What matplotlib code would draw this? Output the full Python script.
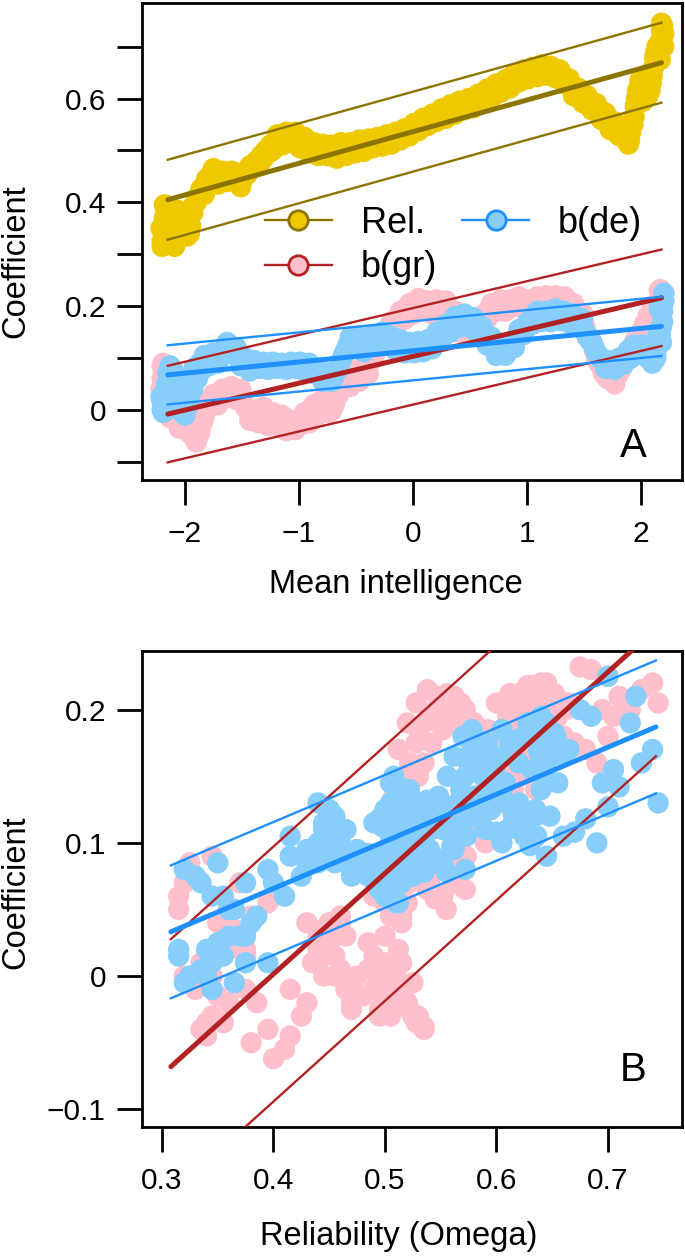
import numpy as np
import matplotlib.pyplot as plt
from matplotlib.lines import Line2D

# moving-window estimates: first pass along the bands
mean_iq = [-2.20, -2.20, -2.19, -2.18, -2.17, -2.16, -2.14, -2.12, -2.10, -2.08,
           -2.06, -2.04, -2.02, -2.00, -1.98, -1.96, -1.93, -1.90, -1.87, -1.84,
           -1.81, -1.77, -1.73, -1.69, -1.65, -1.61, -1.57, -1.53, -1.49, -1.45,
           -1.41, -1.37, -1.33, -1.29, -1.25, -1.21, -1.17, -1.13, -1.09, -1.05,
           -1.01, -0.97, -0.93, -0.89, -0.85, -0.81, -0.77, -0.73, -0.69, -0.65,
           -0.61, -0.57, -0.53, -0.49, -0.45, -0.41, -0.37, -0.33, -0.29, -0.25,
           -0.21, -0.17, -0.13, -0.09, -0.05, -0.01, 0.03, 0.07, 0.11, 0.15,
           0.19, 0.23, 0.27, 0.31, 0.35, 0.39, 0.43, 0.47, 0.51, 0.55,
           0.59, 0.63, 0.67, 0.71, 0.75, 0.79, 0.83, 0.87, 0.91, 0.95,
           0.99, 1.03, 1.07, 1.11, 1.15, 1.19, 1.23, 1.27, 1.31, 1.35,
           1.39, 1.43, 1.47, 1.51, 1.55, 1.59, 1.63, 1.67, 1.71, 1.75,
           1.79, 1.83, 1.87, 1.90, 1.93, 1.95, 1.97, 2.00, 2.03, 2.06,
           2.09, 2.11, 2.12, 2.13, 2.14, 2.15, 2.16, 2.17, 2.17, 2.18,
           2.18, 2.19, 2.19, 2.20, 2.20]
rel = [0.315, 0.325, 0.345, 0.370, 0.380, 0.360, 0.335, 0.320, 0.330, 0.345,
       0.360, 0.375, 0.365, 0.345, 0.335, 0.340, 0.380, 0.400, 0.415, 0.430,
       0.445, 0.455, 0.450, 0.445, 0.455, 0.450, 0.445, 0.440, 0.445, 0.455,
       0.465, 0.480, 0.490, 0.500, 0.510, 0.515, 0.520, 0.525, 0.528, 0.525,
       0.522, 0.515, 0.510, 0.505, 0.500, 0.500, 0.505, 0.500, 0.495, 0.500,
       0.505, 0.500, 0.505, 0.510, 0.505, 0.510, 0.515, 0.512, 0.515, 0.520,
       0.518, 0.522, 0.528, 0.530, 0.535, 0.540, 0.545, 0.550, 0.555, 0.560,
       0.565, 0.568, 0.572, 0.575, 0.578, 0.582, 0.585, 0.588, 0.592, 0.596,
       0.600, 0.605, 0.610, 0.615, 0.620, 0.625, 0.630, 0.635, 0.640, 0.643,
       0.645, 0.648, 0.650, 0.652, 0.653, 0.654, 0.652, 0.648, 0.640, 0.630,
       0.620, 0.612, 0.605, 0.598, 0.590, 0.582, 0.573, 0.562, 0.552, 0.545,
       0.538, 0.530, 0.522, 0.520, 0.550, 0.585, 0.615, 0.620, 0.610, 0.605,
       0.630, 0.660, 0.680, 0.690, 0.700, 0.695, 0.685, 0.675, 0.710, 0.730,
       0.745, 0.740, 0.720, 0.700, 0.725]
b_gr = [0.060, 0.085, 0.090, 0.070, 0.045, 0.030, 0.010, 0.000, -0.010, 0.000,
        0.020, 0.015, -0.005, -0.030, -0.040, -0.045, -0.050, -0.062, -0.045, -0.020,
        0.000, 0.015, 0.025, 0.020, 0.030, 0.040, 0.035, 0.030, 0.015, 0.000,
        -0.010, -0.015, -0.010, -0.015, -0.020, -0.015, -0.020, -0.030, -0.035, -0.030,
        -0.025, -0.020, -0.015, -0.010, 0.000, 0.010, 0.005, -0.005, 0.010, 0.030,
        0.045, 0.055, 0.060, 0.065, 0.070, 0.080, 0.095, 0.110, 0.125, 0.140,
        0.150, 0.160, 0.175, 0.185, 0.190, 0.195, 0.200, 0.205, 0.200, 0.195,
        0.200, 0.205, 0.200, 0.190, 0.175, 0.165, 0.160, 0.155, 0.155, 0.160,
        0.170, 0.185, 0.195, 0.200, 0.205, 0.200, 0.195, 0.205, 0.210, 0.205,
        0.200, 0.205, 0.210, 0.212, 0.210, 0.208, 0.210, 0.212, 0.210, 0.205,
        0.200, 0.190, 0.175, 0.160, 0.140, 0.115, 0.090, 0.070, 0.060, 0.058,
        0.065, 0.080, 0.100, 0.115, 0.125, 0.135, 0.140, 0.150, 0.165, 0.180,
        0.190, 0.180, 0.170, 0.160, 0.180, 0.200, 0.230, 0.232, 0.210, 0.215,
        0.205, 0.220, 0.200, 0.225, 0.210]
b_de = [0.015, 0.000, 0.010, 0.030, 0.040, 0.050, 0.070, 0.080, 0.075, 0.060,
        0.030, 0.010, -0.005, -0.010, 0.005, 0.020, 0.040, 0.070, 0.090, 0.095,
        0.100, 0.098, 0.100, 0.110, 0.120, 0.125, 0.115, 0.100, 0.090, 0.085,
        0.085, 0.088, 0.085, 0.082, 0.085, 0.088, 0.085, 0.082, 0.080, 0.085,
        0.088, 0.085, 0.082, 0.080, 0.075, 0.068, 0.062, 0.060, 0.065, 0.080,
        0.105, 0.125, 0.130, 0.125, 0.120, 0.125, 0.130, 0.135, 0.138, 0.135,
        0.130, 0.128, 0.125, 0.120, 0.118, 0.120, 0.122, 0.122, 0.120, 0.125,
        0.130, 0.140, 0.150, 0.160, 0.168, 0.172, 0.170, 0.172, 0.168, 0.160,
        0.150, 0.140, 0.130, 0.122, 0.118, 0.115, 0.118, 0.125, 0.140, 0.150,
        0.160, 0.170, 0.178, 0.182, 0.180, 0.178, 0.182, 0.185, 0.182, 0.180,
        0.178, 0.175, 0.165, 0.150, 0.135, 0.120, 0.105, 0.095, 0.088, 0.085,
        0.090, 0.098, 0.105, 0.112, 0.115, 0.118, 0.115, 0.112, 0.110, 0.100,
        0.098, 0.105, 0.118, 0.100, 0.127, 0.145, 0.195, 0.200, 0.142, 0.160,
        0.130, 0.170, 0.190, 0.225, 0.210]

# second pass: the other edge of each band (spread of the windows)
mean_iq_2 = [-2.21, -2.19, -2.18, -2.15, -2.13, -2.11, -2.09, -2.07, -2.05, -2.03,
             -2.01, -1.99, -1.95, -1.92, -1.89, -1.86, -1.83, -1.79, -1.75, -1.71,
             -1.67, -1.63, -1.59, -1.55, -1.51, -1.47, -1.43, -1.39, -1.35, -1.31,
             -1.27, -1.23, -1.19, -1.15, -1.11, -1.07, -1.03, -0.99, -0.95, -0.91,
             -0.87, -0.83, -0.79, -0.75, -0.71, -0.67, -0.63, -0.59, -0.55, -0.51,
             -0.47, -0.43, -0.39, -0.35, -0.31, -0.27, -0.23, -0.19, -0.15, -0.11,
             -0.07, -0.03, 0.01, 0.05, 0.09, 0.13, 0.17, 0.21, 0.25, 0.29,
             0.33, 0.37, 0.41, 0.45, 0.49, 0.53, 0.57, 0.61, 0.65, 0.69,
             0.73, 0.77, 0.81, 0.85, 0.89, 0.93, 0.97, 1.01, 1.05, 1.09,
             1.13, 1.17, 1.21, 1.25, 1.29, 1.33, 1.37, 1.41, 1.45, 1.49,
             1.53, 1.57, 1.61, 1.65, 1.69, 1.73, 1.77, 1.81, 1.85, 1.89,
             1.91, 1.94, 1.96, 1.99, 2.02, 2.05, 2.08, 2.10, 2.13, 2.16]
rel_2 = [0.350, 0.320, 0.395, 0.375, 0.350, 0.365, 0.315, 0.385, 0.340, 0.355,
         0.375, 0.360, 0.355, 0.395, 0.410, 0.425, 0.415, 0.440, 0.465, 0.435,
         0.460, 0.440, 0.460, 0.450, 0.430, 0.460, 0.470, 0.475, 0.470, 0.485,
         0.495, 0.500, 0.530, 0.510, 0.535, 0.515, 0.535, 0.505, 0.525, 0.495,
         0.515, 0.490, 0.512, 0.490, 0.510, 0.485, 0.515, 0.490, 0.515, 0.495,
         0.520, 0.498, 0.522, 0.505, 0.525, 0.508, 0.530, 0.512, 0.535, 0.520,
         0.542, 0.528, 0.552, 0.538, 0.562, 0.548, 0.570, 0.556, 0.580, 0.562,
         0.588, 0.570, 0.595, 0.578, 0.600, 0.582, 0.608, 0.590, 0.618, 0.600,
         0.628, 0.612, 0.636, 0.620, 0.648, 0.632, 0.655, 0.638, 0.660, 0.642,
         0.665, 0.645, 0.662, 0.640, 0.655, 0.628, 0.638, 0.605, 0.620, 0.592,
         0.605, 0.578, 0.590, 0.560, 0.572, 0.540, 0.555, 0.528, 0.540, 0.512,
         0.535, 0.565, 0.600, 0.635, 0.595, 0.625, 0.615, 0.645, 0.670, 0.705]
b_gr_2 = [0.040, 0.070, 0.055, 0.020, -0.015, 0.035, 0.050, -0.020, -0.035, 0.040,
          -0.010, -0.020, -0.035, -0.040, -0.055, -0.030, -0.010, 0.020, 0.030, 0.010,
          0.040, 0.025, 0.045, 0.020, 0.040, 0.005, -0.020, 0.000, -0.025, 0.005,
          -0.030, -0.005, -0.030, -0.010, -0.040, -0.020, -0.038, -0.030, -0.005, -0.025,
          0.010, -0.010, 0.020, 0.015, 0.000, 0.025, 0.040, 0.060, 0.045, 0.075,
          0.055, 0.085, 0.070, 0.100, 0.120, 0.135, 0.150, 0.170, 0.160, 0.190,
          0.175, 0.205, 0.185, 0.215, 0.190, 0.210, 0.185, 0.212, 0.190, 0.210,
          0.180, 0.190, 0.150, 0.170, 0.145, 0.170, 0.150, 0.180, 0.175, 0.205,
          0.190, 0.212, 0.190, 0.212, 0.200, 0.218, 0.195, 0.212, 0.200, 0.218,
          0.205, 0.220, 0.200, 0.220, 0.200, 0.218, 0.195, 0.205, 0.180, 0.185,
          0.145, 0.130, 0.100, 0.085, 0.065, 0.070, 0.050, 0.072, 0.090, 0.110,
          0.100, 0.125, 0.130, 0.140, 0.155, 0.170, 0.185, 0.200, 0.175, 0.195]
b_de_2 = [0.025, -0.005, 0.010, 0.070, 0.085, 0.050, 0.020, 0.045, 0.000, 0.015,
          0.030, 0.050, 0.060, 0.080, 0.060, 0.075, 0.105, 0.085, 0.110, 0.090,
          0.105, 0.130, 0.110, 0.120, 0.085, 0.100, 0.075, 0.095, 0.080, 0.092,
          0.078, 0.092, 0.080, 0.090, 0.078, 0.092, 0.080, 0.092, 0.075, 0.090,
          0.070, 0.080, 0.055, 0.072, 0.055, 0.075, 0.095, 0.115, 0.140, 0.118,
          0.140, 0.112, 0.140, 0.145, 0.125, 0.150, 0.125, 0.142, 0.115, 0.135,
          0.110, 0.130, 0.110, 0.132, 0.112, 0.135, 0.118, 0.150, 0.135, 0.165,
          0.150, 0.180, 0.160, 0.185, 0.160, 0.178, 0.145, 0.160, 0.125, 0.140,
          0.105, 0.128, 0.105, 0.130, 0.120, 0.155, 0.145, 0.170, 0.165, 0.190,
          0.170, 0.190, 0.170, 0.195, 0.172, 0.190, 0.168, 0.185, 0.160, 0.175,
          0.140, 0.130, 0.110, 0.098, 0.080, 0.095, 0.078, 0.100, 0.088, 0.115,
          0.100, 0.125, 0.108, 0.120, 0.125, 0.105, 0.115, 0.090, 0.108, 0.155]

# fitted lines: x ends, centre line at the ends, half width of band
fit_x_a = [-2.15, 2.18]
fit_rel_a, band_rel_a = [0.405, 0.669], 0.077
fit_gr_a, band_gr_a = [-0.008, 0.216], 0.093
fit_de_a, band_de_a = [0.0676, 0.161], 0.057
fit_x_b = [0.308, 0.743]
fit_gr_b, band_gr_b = [-0.068, 0.2607], 0.0957
fit_de_b, band_de_b = [0.0332, 0.187], 0.0499

gold_pt, gold_ln = '#EEC900', '#8B7500'
pink_pt, red_ln = '#FFC0CB', '#B22222'
blue_pt, blue_ln = '#87CEFA', '#1E90FF'

x_all = np.concatenate([mean_iq, mean_iq_2])
rel_all = np.concatenate([rel, rel_2])
gr_all = np.concatenate([b_gr, b_gr_2])
de_all = np.concatenate([b_de, b_de_2])

plt.rcParams['font.family'] = ['Liberation Sans', 'DejaVu Sans']

fig = plt.figure(figsize=(6.85, 12.58), dpi=100)
W, H = 685, 1258
axA = fig.add_axes([142 / W, 1 - 480 / H, 540 / W, 477 / H])
axB = fig.add_axes([142 / W, 1 - 1127 / H, 540 / W, 476 / H])

S = 235


def fit_lines(ax, xs, ys, band, col):
    ys = np.array(ys)
    ax.plot(xs, ys, color=col, lw=3.6, solid_capstyle='round', zorder=4)
    ax.plot(xs, ys + band, color=col, lw=1.7, zorder=4)
    ax.plot(xs, ys - band, color=col, lw=1.7, zorder=4)


def style(ax):
    for sp in ax.spines.values():
        sp.set_linewidth(2.0)
    ax.tick_params(length=18, width=2.0, labelsize=21.5, pad=8)
    ax.tick_params(axis='x', pad=11)


# panel A
axA.scatter(x_all, rel_all, s=S, color=gold_pt, edgecolors='none', zorder=2)
axA.scatter(x_all, gr_all, s=S, color=pink_pt, edgecolors='none', zorder=2)
axA.scatter(x_all, de_all, s=S, color=blue_pt, edgecolors='none', zorder=3)
fit_lines(axA, fit_x_a, fit_rel_a, band_rel_a, gold_ln)
fit_lines(axA, fit_x_a, fit_gr_a, band_gr_a, red_ln)
fit_lines(axA, fit_x_a, fit_de_a, band_de_a, blue_ln)
axA.set_xlim(-2.376, 2.36)
axA.set_ylim(-0.135, 0.784)
axA.set_xticks([-2, -1, 0, 1, 2])
axA.set_yticks(np.arange(-0.1, 0.75, 0.1))
axA.set_yticklabels(['', '0', '', '0.2', '', '0.4', '', '0.6', ''])
style(axA)
axA.set_xlabel('Mean intelligence', fontsize=23.5)
axA.xaxis.set_label_coords((396 - 142) / 540, (480 - 585) / 477)
axA.xaxis.label.set_va('center')
axA.set_ylabel('Coefficient', fontsize=23.5)
axA.yaxis.set_label_coords((16 - 142) / 540, (480 - 261) / 477)
axA.yaxis.label.set_va('center')
axA.text(0.935, 0.071, 'A', transform=axA.transAxes, fontsize=29,
         ha='right', va='center')

handles = [
    Line2D([], [], color=gold_ln, lw=1.7, marker='o', markersize=14,
           markerfacecolor=gold_pt, markeredgecolor=gold_ln, markeredgewidth=2),
    Line2D([], [], color=red_ln, lw=1.7, marker='o', markersize=14,
           markerfacecolor=pink_pt, markeredgecolor=red_ln, markeredgewidth=2),
    Line2D([], [], color=blue_ln, lw=1.7, marker='o', markersize=14,
           markerfacecolor=blue_pt, markeredgecolor=blue_ln, markeredgewidth=2),
]
axA.legend(handles, ['Rel.', 'b(gr)', 'b(de)'], ncol=2, frameon=False,
           fontsize=26, handlelength=1.85, handletextpad=0.8,
           columnspacing=0.7, labelspacing=0.25, borderpad=0,
           loc='upper left', bbox_to_anchor=(0.194, 0.612))

# panel B
axB.scatter(rel_all, gr_all, s=S, color=pink_pt, edgecolors='none', zorder=2)
axB.scatter(rel_all, de_all, s=S, color=blue_pt, edgecolors='none', zorder=3)
fit_lines(axB, fit_x_b, fit_gr_b, band_gr_b, red_ln)
fit_lines(axB, fit_x_b, fit_de_b, band_de_b, blue_ln)
axB.set_xlim(0.2821, 0.7664)
axB.set_ylim(-0.1133, 0.244)
axB.set_xticks([0.3, 0.4, 0.5, 0.6, 0.7])
axB.set_xticklabels(['0.3', '0.4', '0.5', '0.6', '0.7'])
axB.set_yticks([-0.1, 0, 0.1, 0.2])
axB.set_yticklabels(['\u22120.1', '0', '0.1', '0.2'])
style(axB)
axB.set_xlabel('Reliability (Omega)', fontsize=23.5)
axB.xaxis.set_label_coords((399 - 142) / 540, (1127 - 1237) / 476)
axB.xaxis.label.set_va('center')
axB.set_ylabel('Coefficient', fontsize=23.5)
axB.yaxis.set_label_coords((16 - 142) / 540, (1127 - 892) / 476)
axB.yaxis.label.set_va('center')
axB.text(0.935, 0.12, 'B', transform=axB.transAxes, fontsize=29,
         ha='right', va='center')

fig.savefig('out.png', dpi=100)
